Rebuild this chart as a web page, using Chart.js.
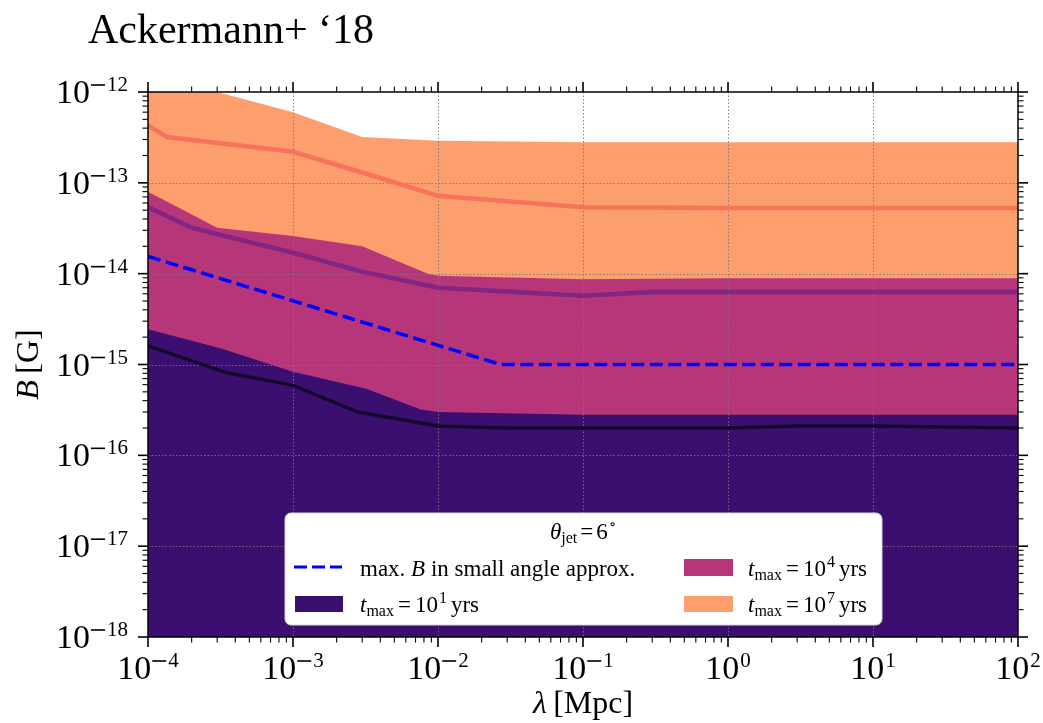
<!DOCTYPE html>
<html>
<head>
<meta charset="utf-8">
<script src="https://cdn.jsdelivr.net/npm/chart.js@4.4.1/dist/chart.umd.min.js"></script>
<style>
  html, body { margin: 0; padding: 0; background: #ffffff; }
  canvas { display: block; }
</style>
</head>
<body>
<canvas id="c" width="1043" height="723"></canvas>
<script>
// ---------------- data ----------------
const titleText = "Ackermann+ \u201818";

// t_max = 10^7 yrs band (upper edge) and its median line
const band7X = [1e-4, 3e-4, 1e-3, 3e-3, 1e-2, 1e-1, 1, 10, 100];
const band7Y = [1.5e-12, 1.0e-12, 6.0e-13, 3.2e-13, 2.9e-13, 2.8e-13, 2.8e-13, 2.8e-13, 2.8e-13];
const line7X = [1e-4, 1.35e-4, 1e-3, 3e-3, 1e-2, 1e-1, 1, 10, 100];
const line7Y = [4.3e-13, 3.2e-13, 2.2e-13, 1.3e-13, 7.2e-14, 5.4e-14, 5.3e-14, 5.3e-14, 5.3e-14];

// t_max = 10^4 yrs band (upper edge) and its median line
const band4X = [1e-4, 3e-4, 1e-3, 3e-3, 8.5e-3, 1e-2, 1e-1, 1, 10, 100];
const band4Y = [8.0e-14, 3.2e-14, 2.6e-14, 2.0e-14, 1.0e-14, 9.5e-15, 8.7e-15, 8.9e-15, 8.9e-15, 8.9e-15];
const line4X = [1e-4, 2e-4, 1e-3, 3e-3, 1e-2, 1e-1, 3e-1, 1, 10, 100];
const line4Y = [5.4e-14, 3.2e-14, 1.7e-14, 1.05e-14, 7.0e-15, 5.7e-15, 6.3e-15, 6.3e-15, 6.3e-15, 6.3e-15];

// t_max = 10^1 yrs band (upper edge) and its median line
const band1X = [1e-4, 3.2e-4, 1e-3, 3.2e-3, 7.6e-3, 1e-2, 1e-1, 1, 10, 100];
const band1Y = [2.45e-15, 1.5e-15, 8.3e-16, 5.4e-16, 3.2e-16, 3.0e-16, 2.8e-16, 2.8e-16, 2.8e-16, 2.8e-16];
const line1X = [1e-4, 3.5e-4, 1e-3, 2.8e-3, 1e-2, 3e-2, 1e-1, 1, 3, 10, 100];
const line1Y = [1.6e-15, 8.1e-16, 5.9e-16, 3.0e-16, 2.1e-16, 2.0e-16, 2.0e-16, 2.0e-16, 2.1e-16, 2.1e-16, 2.0e-16];

// max. B in small angle approx.
const maxBX = [1e-4, 2.7e-2, 1e-1, 1, 10, 100];
const maxBY = [1.55e-14, 1.0e-15, 1.0e-15, 1.0e-15, 1.0e-15, 1.0e-15];

// tick labels (exponents of 10)
const xTickExps = [-4, -3, -2, -1, 0, 1, 2];
const yTickExps = [-18, -17, -16, -15, -14, -13, -12];

const legendTitle = {sym: "\u03b8", sub: "jet", rest: "6", sup: "\u2218"};
const legendPowers = ["1", "4", "7"];

// ---------------- styles ----------------
const C = {
  band7: '#fc9f6d', band4: '#b63679', band1: '#3b0f70',
  line7: '#f8735c', line4: '#832683', line1: '#120a2a', maxB: '#0000ff'
};
const SERIF = '"Liberation Serif", "DejaVu Serif", serif';

function pts(xs, ys) { return xs.map((x, i) => ({x: x, y: ys[i]})); }
function fnt(size, italic) { return (italic ? 'italic ' : '') + size + 'px ' + SERIF; }

// draw a row of text segments: {t, s, it, dy, gap, minus}
function rich(ctx, segs, x, y, align) {
  let w = 0;
  segs.forEach(g => {
    if (g.minus) { g.w = g.minus + (g.gap || 0); }
    else { ctx.font = fnt(g.s, g.it); g.w = ctx.measureText(g.t).width + (g.gap || 0); }
    w += g.w + (g.pre || 0);
  });
  let cx = align === 'center' ? x - w / 2 : (align === 'right' ? x - w : x);
  ctx.textAlign = 'left';
  ctx.textBaseline = 'alphabetic';
  segs.forEach(g => {
    cx += (g.pre || 0);
    if (g.minus) {
      ctx.fillRect(cx, y + (g.dy || 0) - g.axis - 0.8, g.minus, 1.6);
    } else {
      ctx.font = fnt(g.s, g.it);
      ctx.fillText(g.t, cx, y + (g.dy || 0));
    }
    cx += g.w;
  });
  return w;
}

function powSegs(e) {
  const segs = [{t: '10', s: 34}];
  if (e < 0) segs.push({minus: 14, axis: 6, dy: -12, pre: 1, gap: 2});
  segs.push({t: String(Math.abs(e)), s: 21, dy: -12, pre: e < 0 ? 0 : 1});
  return segs;
}

const gridPlugin = {
  id: 'gridUnder',
  beforeDatasetsDraw(chart) {
    const ctx = chart.ctx, a = chart.chartArea;
    const xs = chart.scales.x, ys = chart.scales.y;
    ctx.save();
    ctx.strokeStyle = 'rgba(120,120,120,0.9)';
    ctx.lineWidth = 1;
    ctx.setLineDash([1.5, 2]);
    xTickExps.forEach(e => {
      const px = Math.round(xs.getPixelForValue(Math.pow(10, e))) + 0.5;
      if (px <= a.left + 1 || px >= a.right - 1) return;
      ctx.beginPath(); ctx.moveTo(px, a.top); ctx.lineTo(px, a.bottom); ctx.stroke();
    });
    yTickExps.forEach(e => {
      const py = Math.round(ys.getPixelForValue(Math.pow(10, e))) + 0.5;
      if (py <= a.top + 1 || py >= a.bottom - 1) return;
      ctx.beginPath(); ctx.moveTo(a.left, py); ctx.lineTo(a.right, py); ctx.stroke();
    });
    ctx.restore();
  }
};

const decoPlugin = {
  id: 'deco',
  afterDraw(chart) {
    const ctx = chart.ctx, a = chart.chartArea;
    const xs = chart.scales.x, ys = chart.scales.y;
    ctx.save();
    ctx.fillStyle = '#000';
    ctx.strokeStyle = '#000';

    // frame
    ctx.lineWidth = 1.5;
    ctx.strokeRect(a.left, a.top, a.right - a.left, a.bottom - a.top);

    // ticks (outward, all sides)
    const majL = 10, minL = 5.5;
    function xTick(v, len, lw) {
      const px = xs.getPixelForValue(v);
      ctx.lineWidth = lw;
      ctx.beginPath(); ctx.moveTo(px, a.bottom); ctx.lineTo(px, a.bottom + len); ctx.stroke();
      ctx.beginPath(); ctx.moveTo(px, a.top); ctx.lineTo(px, a.top - len); ctx.stroke();
    }
    function yTick(v, len, lw) {
      const py = ys.getPixelForValue(v);
      ctx.lineWidth = lw;
      ctx.beginPath(); ctx.moveTo(a.left, py); ctx.lineTo(a.left - len, py); ctx.stroke();
      ctx.beginPath(); ctx.moveTo(a.right, py); ctx.lineTo(a.right + len, py); ctx.stroke();
    }
    for (let e = xTickExps[0]; e < xTickExps[xTickExps.length - 1]; e++) {
      for (let m = 2; m <= 9; m++) xTick(m * Math.pow(10, e), minL, 1.1);
    }
    for (let e = yTickExps[0]; e < yTickExps[yTickExps.length - 1]; e++) {
      for (let m = 2; m <= 9; m++) yTick(m * Math.pow(10, e), minL, 1.1);
    }
    xTickExps.forEach(e => xTick(Math.pow(10, e), majL, 1.6));
    yTickExps.forEach(e => yTick(Math.pow(10, e), majL, 1.6));

    // tick labels
    xTickExps.forEach(e => {
      const px = xs.getPixelForValue(Math.pow(10, e));
      rich(ctx, powSegs(e), px, a.bottom + 42, 'center');
    });
    yTickExps.forEach(e => {
      const py = ys.getPixelForValue(Math.pow(10, e));
      rich(ctx, powSegs(e), a.left - 20, py + 11, 'right');
    });

    // axis titles
    rich(ctx, [{t: '\u03bb', s: 32, it: true}, {t: '\u2009[Mpc]', s: 32}], (a.left + a.right) / 2, 713, 'center');
    ctx.save();
    ctx.translate(38, (a.top + a.bottom) / 2);
    ctx.rotate(-Math.PI / 2);
    rich(ctx, [{t: 'B', s: 32, it: true}, {t: '\u2009[G]', s: 32}], 0, 0, 'center');
    ctx.restore();

    // title
    rich(ctx, [{t: titleText, s: 42}], 88, 43, 'left');

    // legend
    const L = {x: 285, y: 513, w: 597, h: 112, r: 6};
    ctx.beginPath();
    ctx.moveTo(L.x + L.r, L.y);
    ctx.arcTo(L.x + L.w, L.y, L.x + L.w, L.y + L.h, L.r);
    ctx.arcTo(L.x + L.w, L.y + L.h, L.x, L.y + L.h, L.r);
    ctx.arcTo(L.x, L.y + L.h, L.x, L.y, L.r);
    ctx.arcTo(L.x, L.y, L.x + L.w, L.y, L.r);
    ctx.closePath();
    ctx.fillStyle = '#ffffff';
    ctx.fill();
    ctx.lineWidth = 1;
    ctx.strokeStyle = '#d4d4d4';
    ctx.stroke();

    ctx.fillStyle = '#000';
    rich(ctx, [
      {t: legendTitle.sym, s: 23, it: true},
      {t: legendTitle.sub, s: 16, dy: 4, gap: 3},
      {t: '=', s: 23, gap: 3},
      {t: legendTitle.rest, s: 23, gap: 1},
      {t: legendTitle.sup, s: 15, dy: -10}
    ], 583, 539, 'center');

    // handles
    ctx.strokeStyle = C.maxB; ctx.lineWidth = 3; ctx.setLineDash([13, 5]);
    ctx.beginPath(); ctx.moveTo(294, 567); ctx.lineTo(342, 567); ctx.stroke();
    ctx.setLineDash([]);
    ctx.fillStyle = C.band1; ctx.fillRect(295, 596, 48, 16);
    ctx.fillStyle = C.band4; ctx.fillRect(684, 559, 49, 17);
    ctx.fillStyle = C.band7; ctx.fillRect(684, 596, 49, 16);

    ctx.fillStyle = '#000';
    rich(ctx, [{t: 'max. ', s: 23}, {t: 'B', s: 23, it: true}, {t: ' in small angle approx.', s: 23}], 360, 576, 'left');
    function tmax(x, y, p) {
      rich(ctx, [
        {t: 't', s: 23, it: true},
        {t: 'max', s: 16, dy: 4, gap: 4},
        {t: '=', s: 23, gap: 4},
        {t: '10', s: 23, gap: 1},
        {t: p, s: 16, dy: -9, gap: 4},
        {t: 'yrs', s: 23}
      ], x, y, 'left');
    }
    tmax(360, 612, legendPowers[0]);
    tmax(748, 576, legendPowers[1]);
    tmax(748, 612, legendPowers[2]);
    ctx.restore();
  }
};

const ctx = document.getElementById('c').getContext('2d');
new Chart(ctx, {
  type: 'line',
  data: {
    datasets: [
      {label: 'max. B in small angle approx.', data: pts(maxBX, maxBY), borderColor: C.maxB, borderWidth: 3.5, borderDash: [13, 5.5], fill: false, order: 0},
      {label: 'median 10^1 yrs', data: pts(line1X, line1Y), borderColor: C.line1, borderWidth: 3.5, fill: false, order: 1},
      {label: 't_max = 10^1 yrs', data: pts(band1X, band1Y), borderColor: 'rgba(0,0,0,0)', borderWidth: 0.01, backgroundColor: C.band1, fill: 'start', order: 2},
      {label: 'median 10^4 yrs', data: pts(line4X, line4Y), borderColor: C.line4, borderWidth: 4.5, fill: false, order: 3},
      {label: 't_max = 10^4 yrs', data: pts(band4X, band4Y), borderColor: 'rgba(0,0,0,0)', borderWidth: 0.01, backgroundColor: C.band4, fill: 'start', order: 4},
      {label: 'median 10^7 yrs', data: pts(line7X, line7Y), borderColor: C.line7, borderWidth: 4.5, fill: false, order: 5},
      {label: 't_max = 10^7 yrs', data: pts(band7X, band7Y), borderColor: 'rgba(0,0,0,0)', borderWidth: 0.01, backgroundColor: C.band7, fill: 'start', order: 6}
    ]
  },
  options: {
    responsive: false,
    animation: false,
    devicePixelRatio: 1,
    elements: {point: {radius: 0, hoverRadius: 0}, line: {tension: 0}},
    layout: {padding: {top: 92, right: 25, left: 0, bottom: 0}},
    plugins: {
      legend: {display: false},
      title: {display: false},
      tooltip: {enabled: false},
      filler: {drawTime: 'beforeDatasetsDraw'}
    },
    events: [],
    scales: {
      x: {
        type: 'logarithmic', min: 1e-4, max: 1e2,
        ticks: {display: false}, grid: {display: false}, border: {display: false},
        afterFit: s => { s.height = 86; }
      },
      y: {
        type: 'logarithmic', min: 1e-18, max: 1e-12,
        ticks: {display: false}, grid: {display: false}, border: {display: false},
        afterFit: s => { s.width = 148; }
      }
    }
  },
  plugins: [gridPlugin, decoPlugin]
});
</script>
</body>
</html>
